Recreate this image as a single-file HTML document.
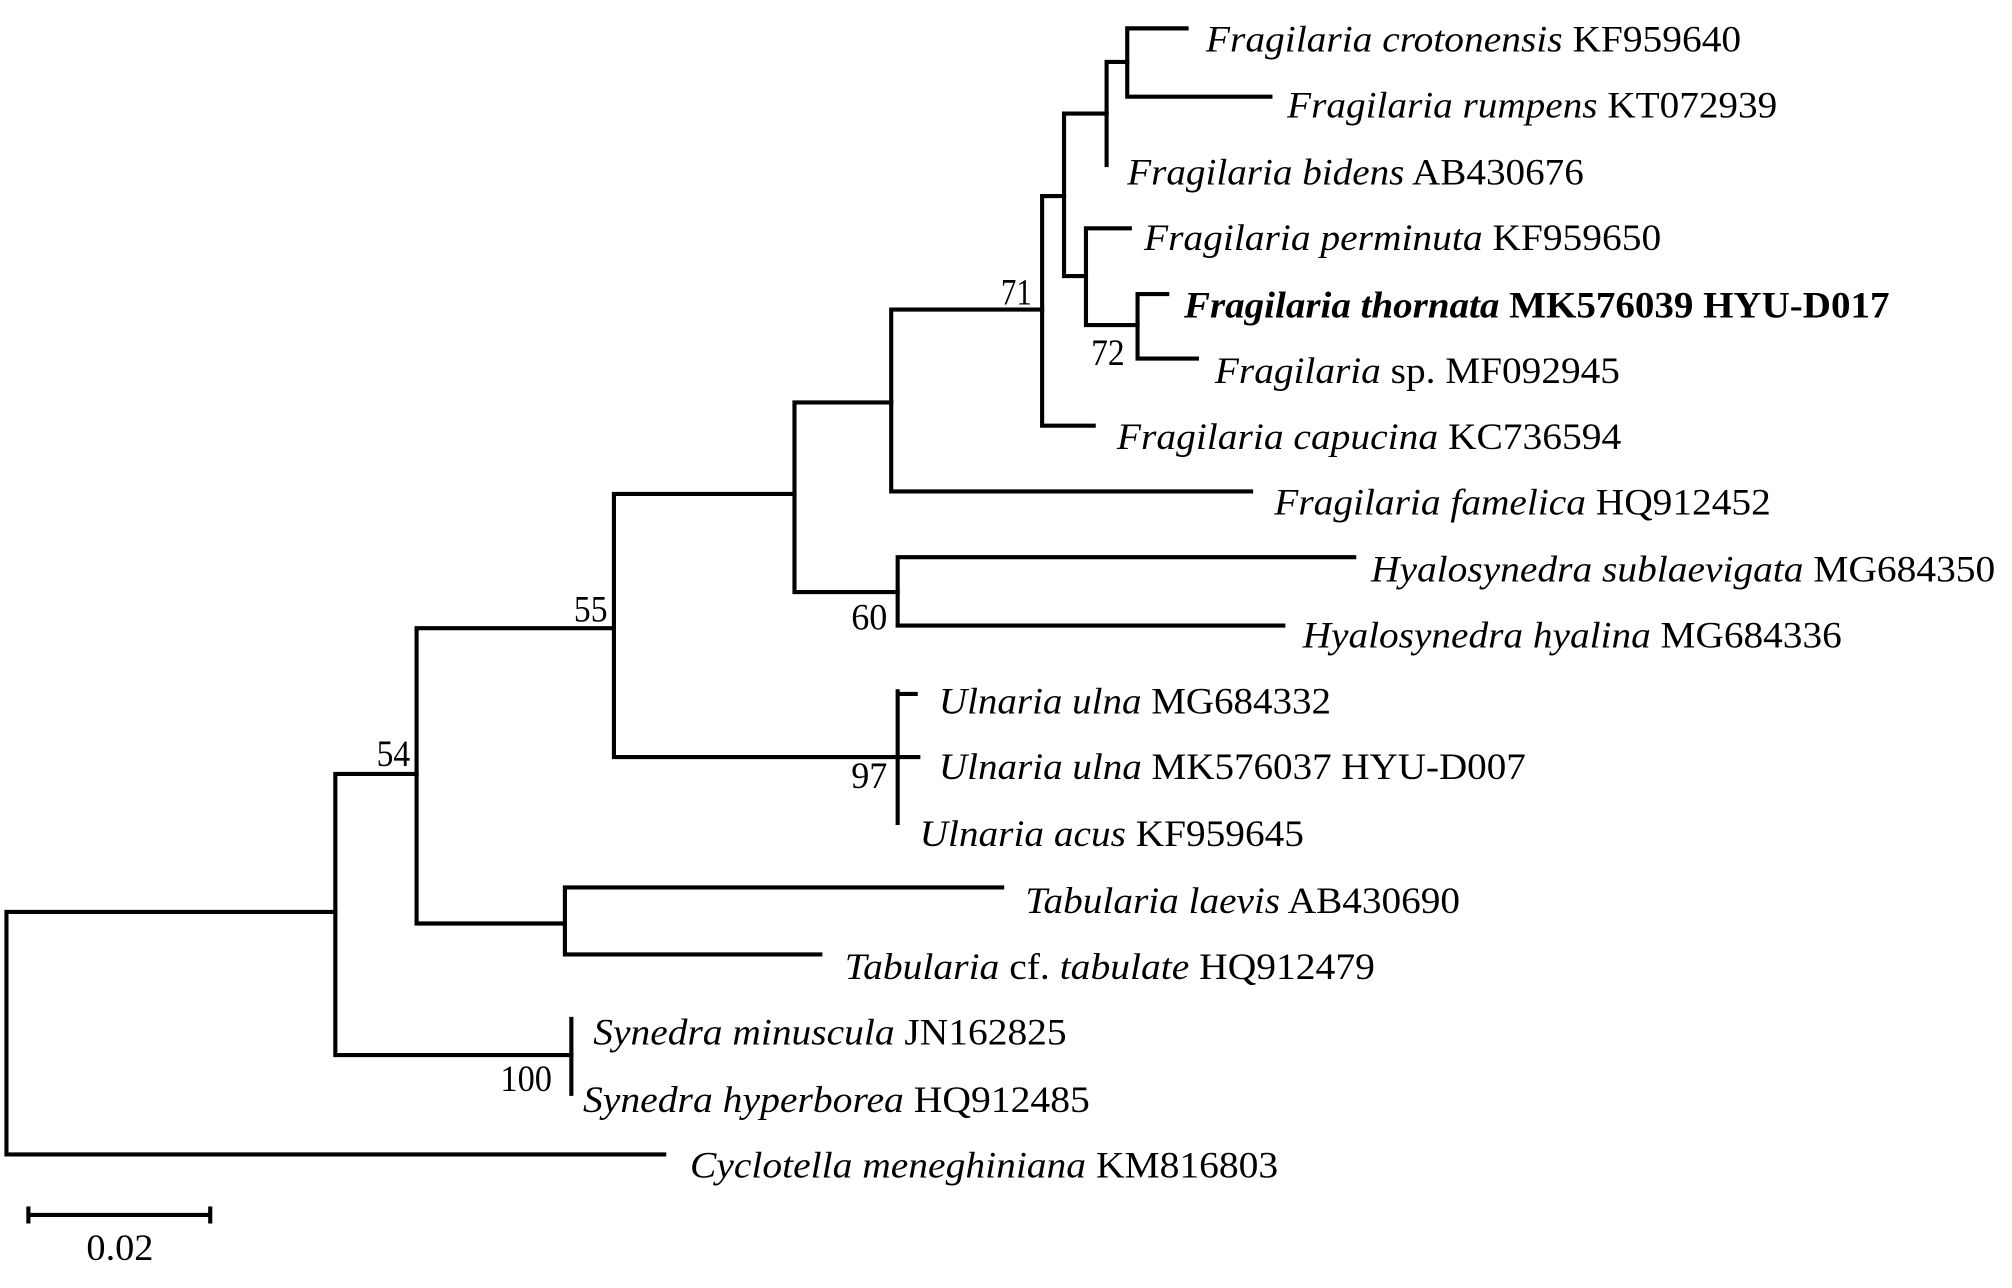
<!DOCTYPE html>
<html><head><meta charset="utf-8"><style>
html,body{margin:0;padding:0;background:#fff;}
svg{display:block;}
text{font-family:"Liberation Serif",serif;font-size:29px;fill:#000;}
.i{font-style:italic;}
</style></head><body>
<svg width="2012" height="1288" viewBox="0 0 1560 998.6" preserveAspectRatio="none" xmlns="http://www.w3.org/2000/svg">
<g stroke="#000" stroke-width="3.2" fill="none" stroke-linecap="square">
<path d="M5 707V895M5 707H260M5 895H515"/>
<path d="M260 600V818M260 600H323M260 818H443"/>
<path d="M443 790V848"/>
<path d="M323 487V716M323 487H476M323 716H438"/>
<path d="M438 688V740M438 688H777M438 740H636"/>
<path d="M476 383V587M476 383H616M476 587H696"/>
<path d="M696 536V638M696 538H710M696 587H712"/>
<path d="M616 312V459M616 312H691M616 459H696"/>
<path d="M696 432V485M696 432H1050M696 485H995"/>
<path d="M691 240V381M691 240H808M691 381H970"/>
<path d="M808 152V330M808 330H848M808 152H825"/>
<path d="M825 88V214M825 88H858M825 214H842"/>
<path d="M858 48V128M858 48H874"/>
<path d="M874 22V75M874 22H920M874 75H985"/>
<path d="M842 177V252M842 177H876M842 252H882"/>
<path d="M882 228V278M882 228H905M882 278H928"/>
<path d="M22 942H163M22 937V947M163 937V947"/>
</g>
<text x="935" y="40" textLength="415" lengthAdjust="spacingAndGlyphs"><tspan class="i">Fragilaria crotonensis</tspan> KF959640</text>
<text x="998" y="91" textLength="380" lengthAdjust="spacingAndGlyphs"><tspan class="i">Fragilaria rumpens</tspan> KT072939</text>
<text x="874" y="143" textLength="354" lengthAdjust="spacingAndGlyphs"><tspan class="i">Fragilaria bidens</tspan> AB430676</text>
<text x="887" y="194" textLength="401" lengthAdjust="spacingAndGlyphs"><tspan class="i">Fragilaria perminuta</tspan> KF959650</text>
<text x="918" y="246" textLength="547" lengthAdjust="spacingAndGlyphs" font-weight="bold"><tspan class="i">Fragilaria thornata</tspan> MK576039 HYU-D017</text>
<text x="942" y="297" textLength="314" lengthAdjust="spacingAndGlyphs"><tspan class="i">Fragilaria</tspan> sp. MF092945</text>
<text x="866" y="348" textLength="391" lengthAdjust="spacingAndGlyphs"><tspan class="i">Fragilaria capucina</tspan> KC736594</text>
<text x="988" y="399" textLength="385" lengthAdjust="spacingAndGlyphs"><tspan class="i">Fragilaria famelica</tspan> HQ912452</text>
<text x="1063" y="451" textLength="484" lengthAdjust="spacingAndGlyphs"><tspan class="i">Hyalosynedra sublaevigata</tspan> MG684350</text>
<text x="1010" y="502" textLength="418" lengthAdjust="spacingAndGlyphs"><tspan class="i">Hyalosynedra hyalina</tspan> MG684336</text>
<text x="728" y="553" textLength="304" lengthAdjust="spacingAndGlyphs"><tspan class="i">Ulnaria ulna</tspan> MG684332</text>
<text x="728" y="604" textLength="455" lengthAdjust="spacingAndGlyphs"><tspan class="i">Ulnaria ulna</tspan> MK576037 HYU-D007</text>
<text x="713" y="656" textLength="298" lengthAdjust="spacingAndGlyphs"><tspan class="i">Ulnaria acus</tspan> KF959645</text>
<text x="795" y="708" textLength="337" lengthAdjust="spacingAndGlyphs"><tspan class="i">Tabularia laevis</tspan> AB430690</text>
<text x="655" y="759" textLength="411" lengthAdjust="spacingAndGlyphs"><tspan class="i">Tabularia</tspan> cf. <tspan class="i">tabulate</tspan> HQ912479</text>
<text x="460" y="810" textLength="367" lengthAdjust="spacingAndGlyphs"><tspan class="i">Synedra minuscula</tspan> JN162825</text>
<text x="452" y="862" textLength="393" lengthAdjust="spacingAndGlyphs"><tspan class="i">Synedra hyperborea</tspan> HQ912485</text>
<text x="535" y="913" textLength="456" lengthAdjust="spacingAndGlyphs"><tspan class="i">Cyclotella meneghiniana</tspan> KM816803</text>
<text x="776" y="236" textLength="24" lengthAdjust="spacingAndGlyphs">71</text>
<text x="846" y="283" textLength="26" lengthAdjust="spacingAndGlyphs">72</text>
<text x="660" y="488" textLength="28" lengthAdjust="spacingAndGlyphs">60</text>
<text x="445" y="482" textLength="26" lengthAdjust="spacingAndGlyphs">55</text>
<text x="292" y="594" textLength="26" lengthAdjust="spacingAndGlyphs">54</text>
<text x="660" y="611" textLength="28" lengthAdjust="spacingAndGlyphs">97</text>
<text x="388" y="846" textLength="40" lengthAdjust="spacingAndGlyphs">100</text>
<text x="67" y="977" textLength="52" lengthAdjust="spacingAndGlyphs">0.02</text>
</svg>
</body></html>
